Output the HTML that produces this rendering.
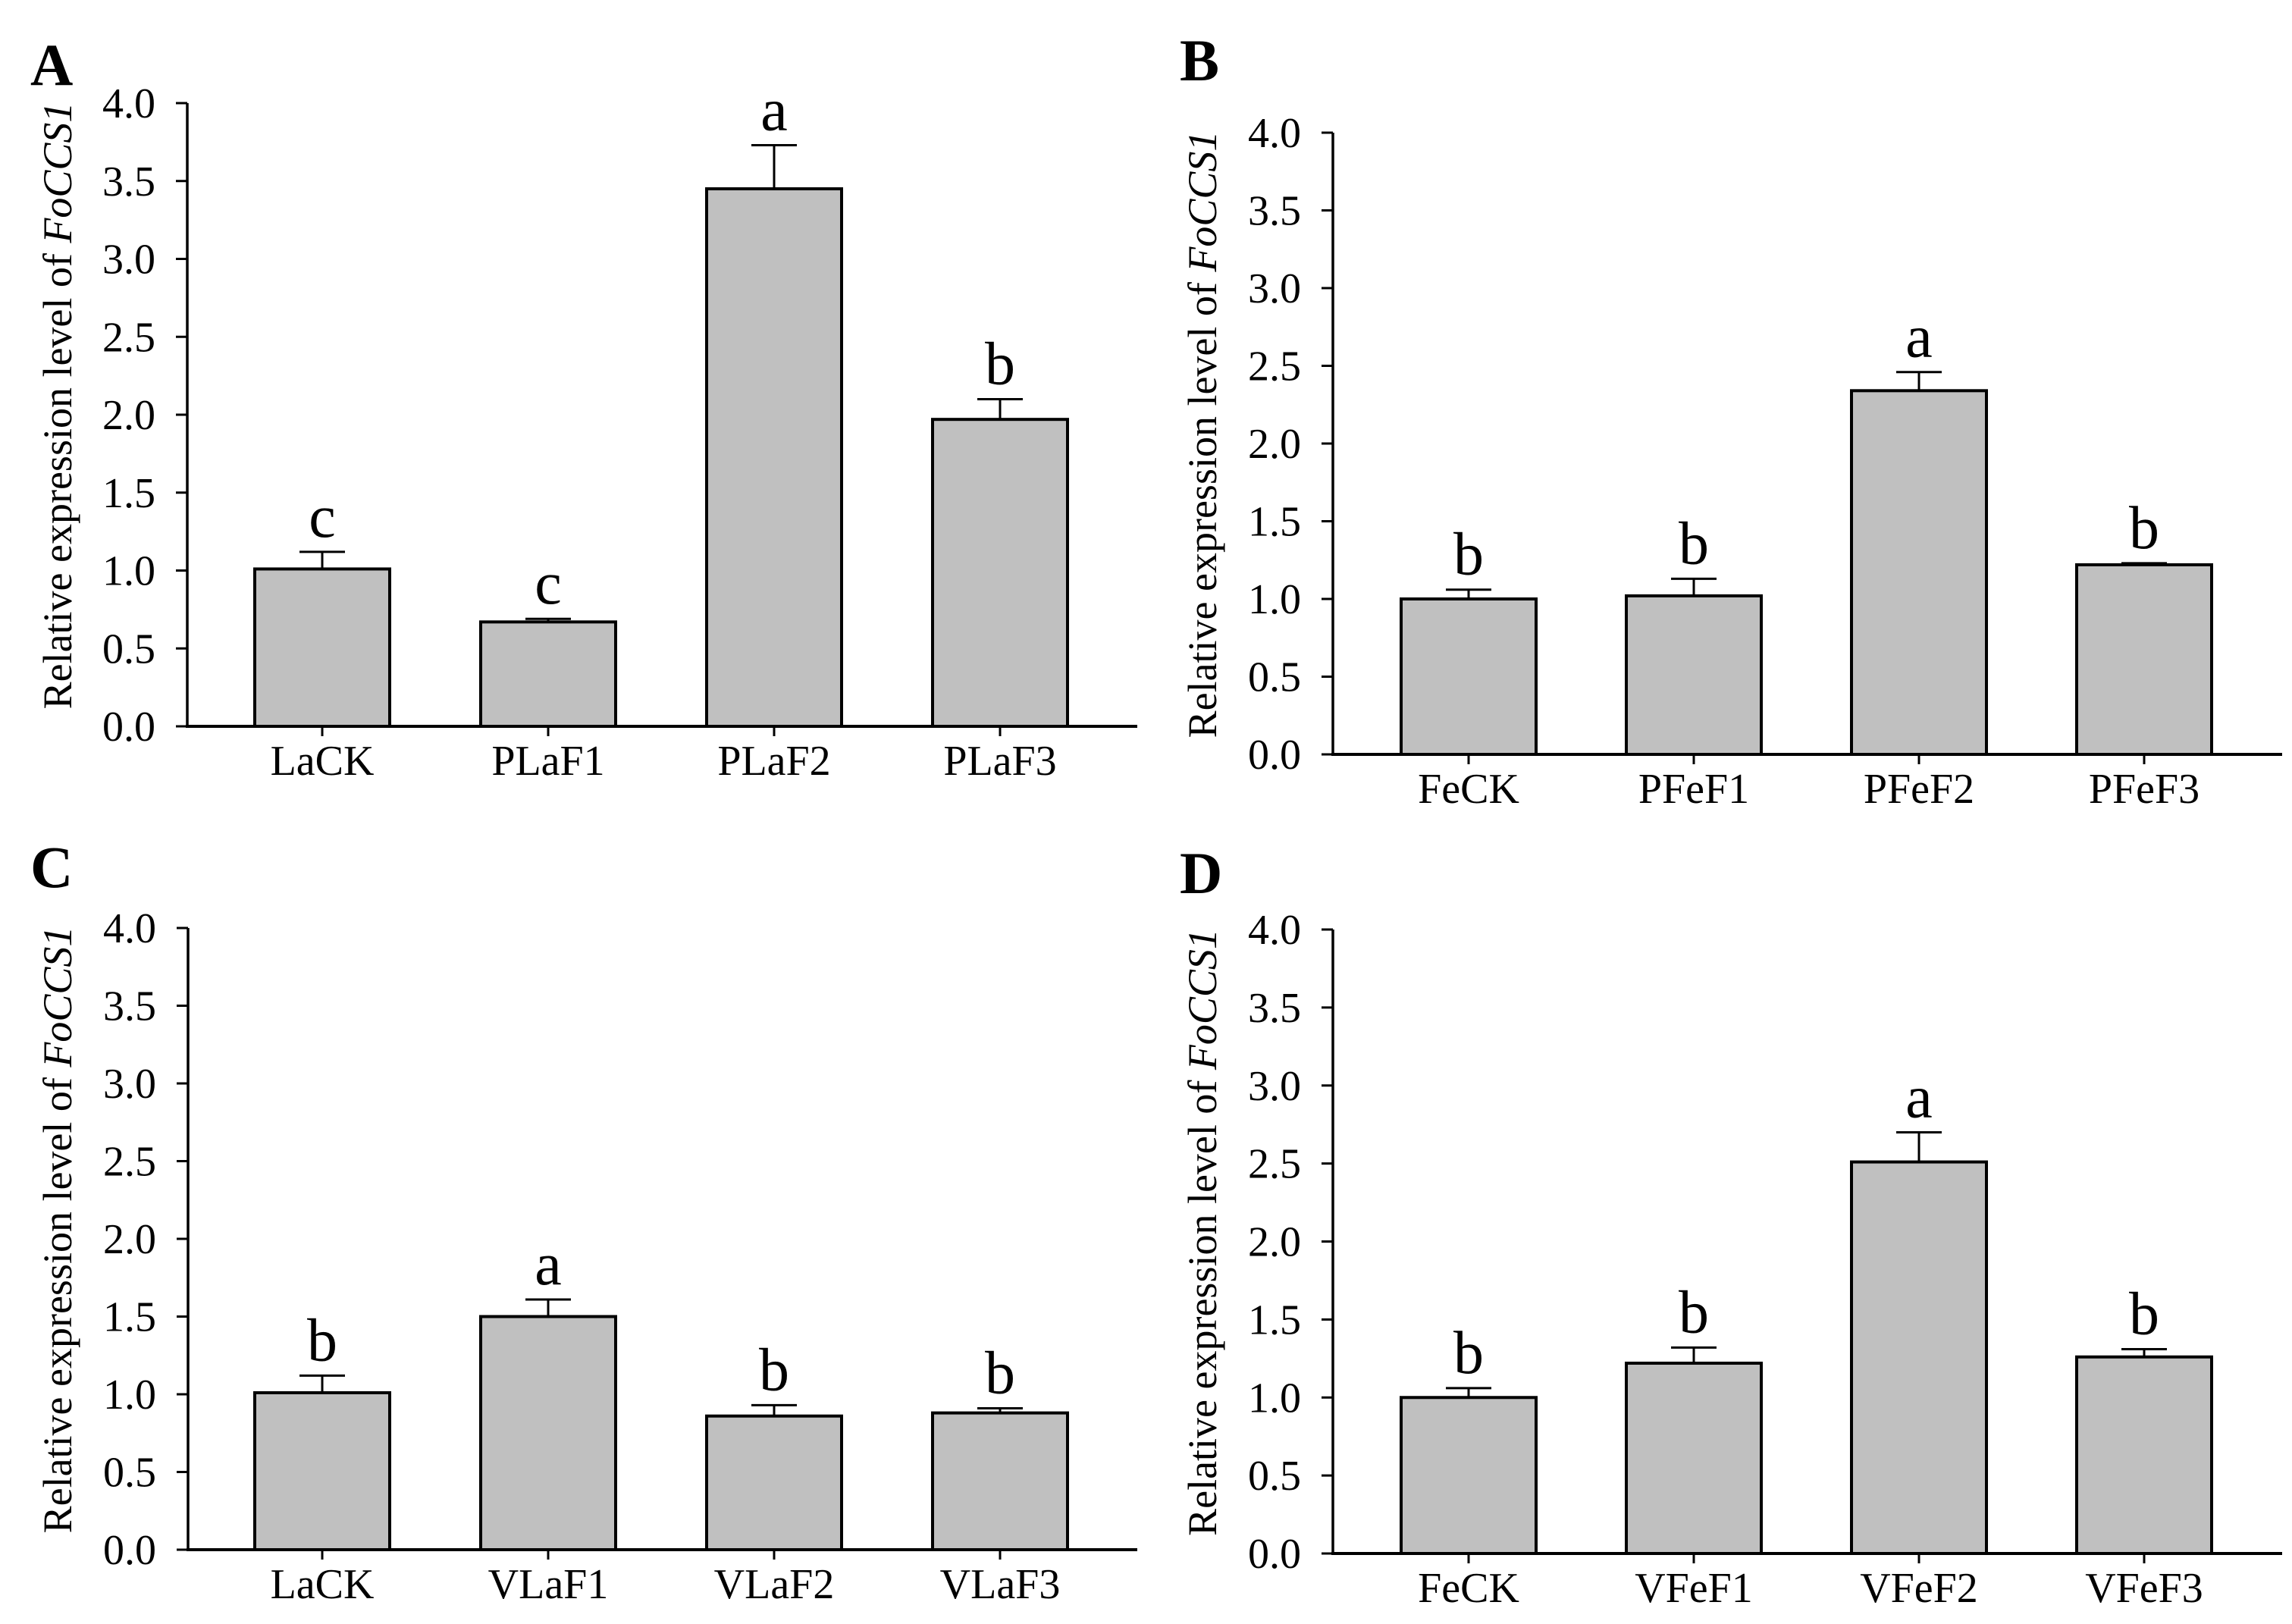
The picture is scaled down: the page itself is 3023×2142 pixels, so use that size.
<!DOCTYPE html>
<html><head><meta charset="utf-8"><style>
html,body{margin:0;padding:0;background:#fff;}
svg{display:block;font-family:"Liberation Serif",serif;}
</style></head><body>
<svg id="fig" width="3023" height="2142" viewBox="0 0 3023 2142" xmlns="http://www.w3.org/2000/svg"></svg>
<script>
const catsA = ["LaCK","PLaF1","PLaF2","PLaF3"];
const valsA = [1.01,0.67,3.45,1.97];
const errsA = [0.11,0.02,0.28,0.13];
const sigA = ["c","c","a","b"];
const catsB = ["FeCK","PFeF1","PFeF2","PFeF3"];
const valsB = [1.00,1.02,2.34,1.22];
const errsB = [0.06,0.11,0.12,0.01];
const sigB = ["b","b","a","b"];
const catsC = ["LaCK","VLaF1","VLaF2","VLaF3"];
const valsC = [1.01,1.50,0.86,0.88];
const errsC = [0.11,0.11,0.07,0.03];
const sigC = ["b","a","b","b"];
const catsD = ["FeCK","VFeF1","VFeF2","VFeF3"];
const valsD = [1.00,1.22,2.51,1.26];
const errsD = [0.06,0.10,0.19,0.05];
const sigD = ["b","b","a","b"];
const yTicks = ["0.0","0.5","1.0","1.5","2.0","2.5","3.0","3.5","4.0"];
const yMax = 4.0;

const NS = "http://www.w3.org/2000/svg";
const svg = document.getElementById("fig");
function mk(tag, attrs, parent, text){
  const e = document.createElementNS(NS, tag);
  for (const k in attrs) e.setAttribute(k, attrs[k]);
  if (text !== undefined) e.textContent = text;
  parent.appendChild(e);
  return e;
}

function panel(id, letter, lx, ly, ax, top, bot, xEnd, firstC, step, titleX, cats, vals, errs, sig){
  const g = mk("g", {}, svg);
  
  
  const y = v => bot - (v / yMax) * (bot - top);
  const x = i => firstC + i * step;
  const bw = 178;

  const L = mk("text", {x:lx, y:ly, "font-size":78, "font-weight":"bold"}, g, letter);
  
  

  cats.forEach((c, i) => {
    const r = mk("rect", {x:x(i)-bw/2, y:y(vals[i]), width:bw, height:bot-y(vals[i]), fill:"#c0c0c0", stroke:"#000", "stroke-width":4}, g);
    
    
    const et = y(vals[i] + errs[i]);
    const eb = mk("path", {d:`M${x(i)} ${y(vals[i])} V${et} M${x(i)-30} ${et} H${x(i)+30}`, stroke:"#000", "stroke-width":3, fill:"none"}, g);
    
    
    const s = mk("text", {x:x(i), y:et-20, "font-size":80, "text-anchor":"middle"}, g, sig[i]);
    
    
    const tk = mk("line", {x1:x(i), x2:x(i), y1:bot, y2:bot+13, stroke:"#000", "stroke-width":3}, g);
    
    
    const xl = mk("text", {x:x(i), y:bot+64, "font-size":56, "text-anchor":"middle"}, g, c);
    
    
  });

  const ya = mk("line", {x1:ax, x2:ax, y1:top, y2:bot, stroke:"#000", "stroke-width":3.5}, g);
  
  
  const xa = mk("line", {x1:ax-2, x2:xEnd, y1:bot, y2:bot, stroke:"#000", "stroke-width":4}, g);
  
  

  yTicks.forEach(t => {
    const yy = y(parseFloat(t));
    const tl = mk("line", {x1:ax-15, x2:ax, y1:yy, y2:yy, stroke:"#000", "stroke-width":3}, g);
    
    
    const tt = mk("text", {x:ax-42, y:yy+19, "font-size":56, "text-anchor":"end"}, g, t);
    
    
  });

  const cy = (top + bot) / 2 - 12;
  const yt = mk("text", {x:titleX, y:cy, "font-size":54, "text-anchor":"middle", transform:`rotate(-90 ${titleX} ${cy})`}, g);
  
  
  mk("tspan", {}, yt, "Relative expression level of ");
  mk("tspan", {"font-style":"italic"}, yt, "FoCCS1");
}

panel("a","A",40,112,247,136,958,1500,425,298,94,catsA,valsA,errsA,sigA);
panel("b","B",1556,106,1758,175,995,3010,1937,297,1604,catsB,valsB,errsB,sigB);
panel("c","C",40,1170,248,1224,2044,1500,425,298,94,catsC,valsC,errsC,sigC);
panel("d","D",1556,1178,1758,1226,2049,3010,1937,297,1604,catsD,valsD,errsD,sigD);
</script>
</body></html>
